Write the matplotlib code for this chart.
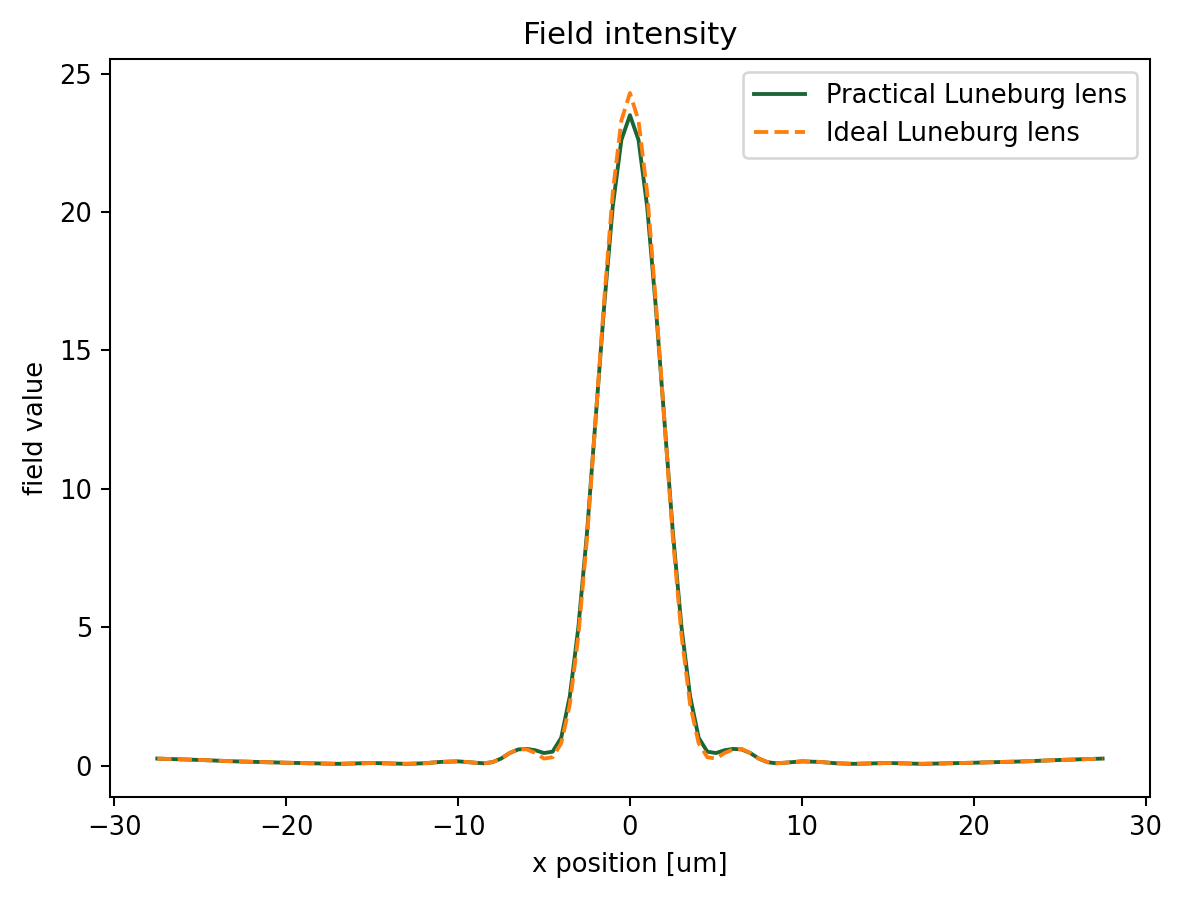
import numpy as np
import matplotlib
matplotlib.use("Agg")
import matplotlib.pyplot as plt

x_half = [0, 0.5, 1, 1.5, 2, 2.5, 3, 3.5, 4, 4.5, 5, 5.5, 6, 6.5, 7, 7.5, 8, 8.5, 9, 10, 11, 12, 13, 15, 17, 20, 23, 25, 27.5]
practical_half = [23.5, 22.6, 20.2, 16.6, 12.5, 8.4, 5.0, 2.5, 1.0, 0.5, 0.45, 0.55, 0.6, 0.58, 0.45, 0.25, 0.12, 0.08, 0.1, 0.15, 0.13, 0.08, 0.06, 0.09, 0.06, 0.1, 0.15, 0.2, 0.25]
ideal_half = [24.3, 23.3, 20.7, 16.8, 12.5, 8.2, 4.7, 2.2, 0.8, 0.3, 0.25, 0.45, 0.58, 0.6, 0.45, 0.25, 0.12, 0.08, 0.1, 0.15, 0.13, 0.08, 0.06, 0.09, 0.06, 0.1, 0.15, 0.2, 0.25]

x = np.array([-v for v in x_half[::-1]] + x_half[1:])
practical = np.array(practical_half[::-1] + practical_half[1:])
ideal = np.array(ideal_half[::-1] + ideal_half[1:])

fig, ax = plt.subplots(figsize=(1183/185, 901/185), dpi=185)
fig.subplots_adjust(left=0.093, right=0.972, top=0.934, bottom=0.115)
ax.plot(x, practical, color="#1a6636", label="Practical Luneburg lens")
ax.plot(x, ideal, "--", color="#ff7f0e", label="Ideal Luneburg lens")
ax.set_title("Field intensity")
ax.set_xlabel("x position [um]")
ax.set_ylabel("field value")
ax.legend(loc="upper right")
fig.savefig("out.png")
